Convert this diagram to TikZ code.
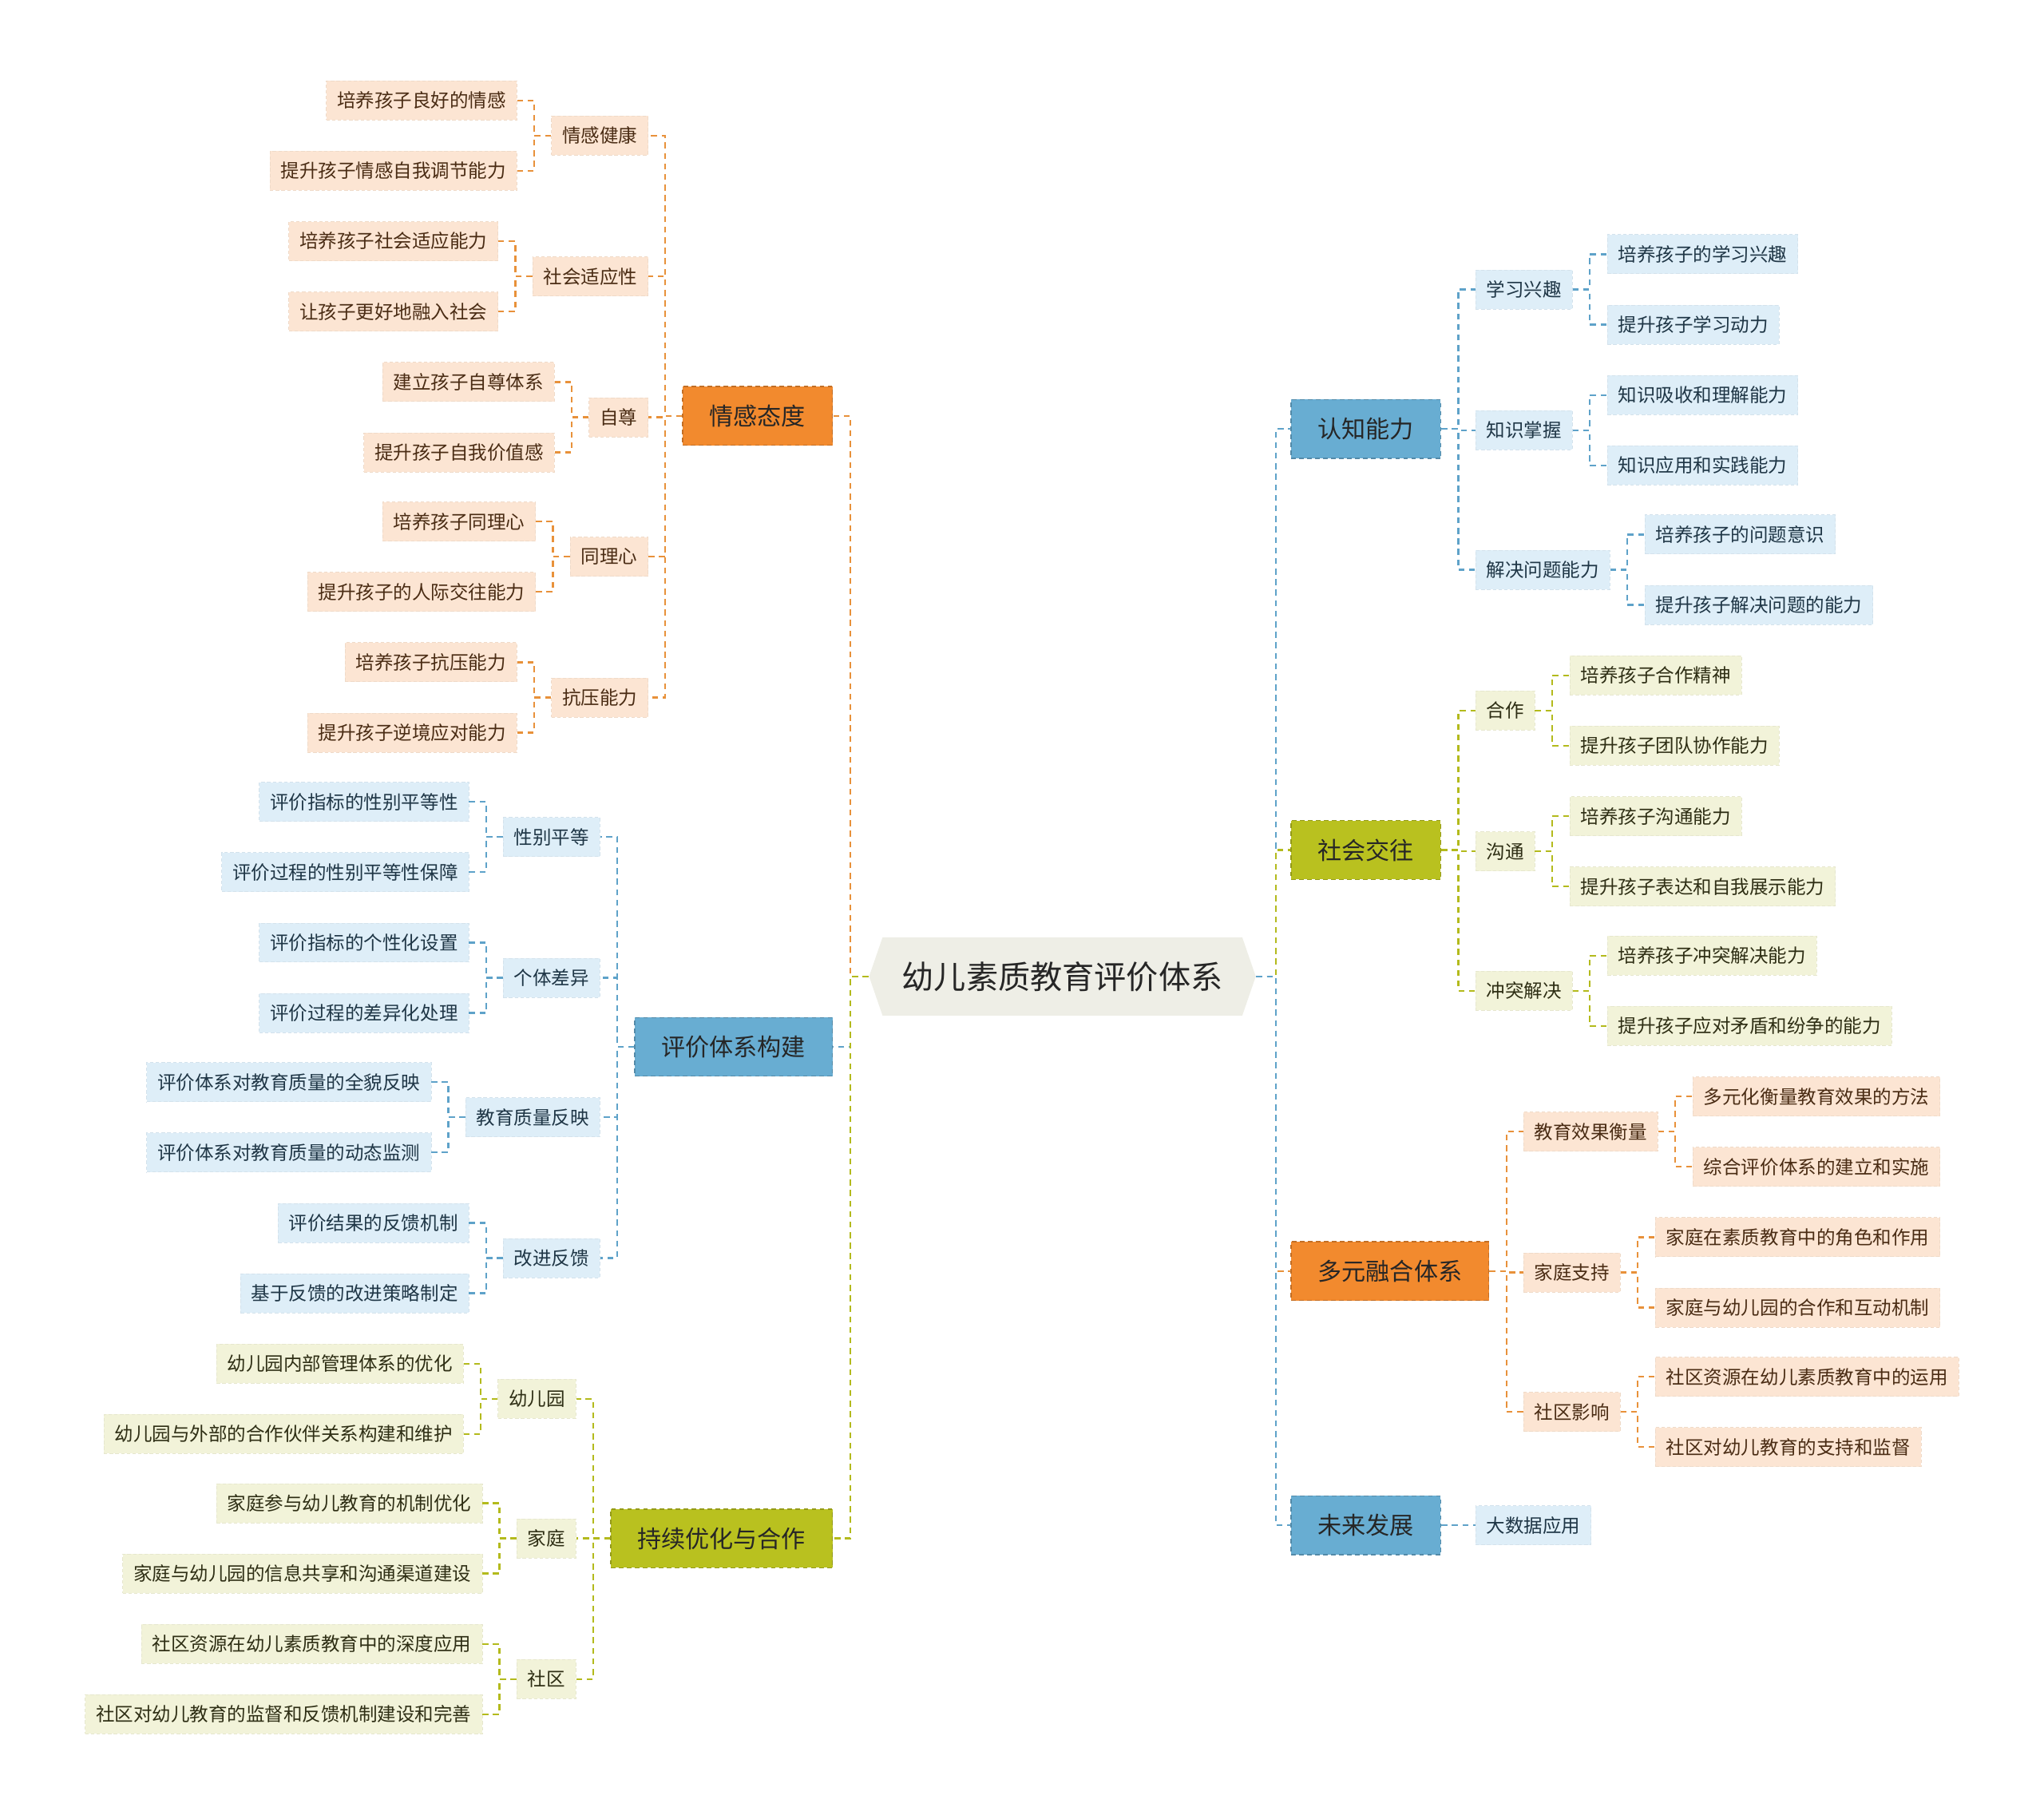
\documentclass[tikz,border=0pt]{standalone}
\usepackage{fontspec}
\setmainfont{Noto Sans CJK SC}
\usetikzlibrary{shapes.symbols}

\definecolor{cRoot}{HTML}{EEEEE6}
\definecolor{cO}{HTML}{F28A2E}
\definecolor{cB}{HTML}{68ADD2}
\definecolor{cG}{HTML}{B9C11F}
\definecolor{cOl}{HTML}{FCE5D3}
\definecolor{cBl}{HTML}{DEEEF8}
\definecolor{cGl}{HTML}{F2F3D9}
\definecolor{cOline}{HTML}{E8913A}
\definecolor{cBline}{HTML}{5EA2C9}
\definecolor{cGline}{HTML}{B3BA1C}
\definecolor{cOtxt}{HTML}{4A2C14}
\definecolor{cBtxt}{HTML}{1F3646}
\definecolor{cGtxt}{HTML}{2E2E14}

\tikzset{
  root/.style={signal, signal to=west and east, signal pointer angle=142,
    fill=cRoot, minimum height=1.2cm, inner xsep=0.3cm,
    font=\fontsize{14}{16}\selectfont, text=black!85},
  hub/.style={minimum height=0.9cm, inner xsep=0.41cm, inner ysep=0pt,
    font=\fontsize{10.5}{12}\selectfont, text=black!85,
    dash pattern=on 2pt off 1.5pt, line width=0.5pt},
  hubO/.style={hub, fill=cO, draw=cO!80!black},
  hubB/.style={hub, fill=cB, draw=cB!80!black},
  hubG/.style={hub, fill=cG, draw=cG!80!black},
  twig/.style={minimum height=0.6cm, inner xsep=0.165cm, inner ysep=0pt,
    font=\fontsize{8.2}{10}\selectfont,
    dash pattern=on 1.5pt off 1pt, line width=0.3pt},
  twigO/.style={twig, fill=cOl, draw=cOl!95!black, text=cOtxt},
  twigB/.style={twig, fill=cBl, draw=cBl!95!black, text=cBtxt},
  twigG/.style={twig, fill=cGl, draw=cGl!95!black, text=cGtxt},
  link/.style={dash pattern=on 2.6pt off 2pt, line width=0.8pt},
  linkO/.style={link, draw=cOline},
  linkB/.style={link, draw=cBline},
  linkG/.style={link, draw=cGline},
}

% sub-branch with two leaves, left side: name, colour, parent, y, label, upper leaf, lower leaf
\newcommand{\branchL}[7]{%
  \node[twig#2, anchor=east, xshift=-0.52cm] (#1) at (#3.west |- 0,#4) {#5};
  \node[twig#2, anchor=east, xshift=-0.52cm, yshift=0.54cm] (#1a) at (#1.west) {#6};
  \node[twig#2, anchor=east, xshift=-0.52cm, yshift=-0.54cm] (#1b) at (#1.west) {#7};
  \draw[link#2] (#3.west) -- ++(-13,0) |- (#1.east);
  \draw[link#2] (#1.west) -- ++(-13,0) |- (#1a.east);
  \draw[link#2] (#1.west) -- ++(-13,0) |- (#1b.east);
}
% same, right side
\newcommand{\branchR}[7]{%
  \node[twig#2, anchor=west, xshift=0.52cm] (#1) at (#3.east |- 0,#4) {#5};
  \node[twig#2, anchor=west, xshift=0.53cm, yshift=0.54cm] (#1a) at (#1.east) {#6};
  \node[twig#2, anchor=west, xshift=0.53cm, yshift=-0.54cm] (#1b) at (#1.east) {#7};
  \draw[link#2] (#3.east) -- ++(13,0) |- (#1.west);
  \draw[link#2] (#1.east) -- ++(13,0) |- (#1a.west);
  \draw[link#2] (#1.east) -- ++(13,0) |- (#1b.west);
}

\begin{document}
\begin{tikzpicture}[x=0.02cm, y=-0.02cm]
  \useasboundingbox (0,0) rectangle (1568,1392);

  \node[root] (root) at (815,749) {幼儿素质教育评价体系};

  % left side
  \node[hubO, anchor=east] (qg) at (639,319) {情感态度};
  \node[hubB, anchor=east] (pj) at (639,803) {评价体系构建};
  \node[hubG, anchor=east] (cx) at (639,1180) {持续优化与合作};

  % right side
  \node[hubB, anchor=west] (rz) at (990,329) {认知能力};
  \node[hubG, anchor=west] (sj) at (990,652) {社会交往};
  \node[hubO, anchor=west] (dy) at (990,975) {多元融合体系};
  \node[hubB, anchor=west] (wl) at (990,1170) {未来发展};

  \draw[linkO] (root.west) -- ++(-14,0) |- (qg.east);
  \draw[linkB] (root.west) -- ++(-14,0) |- (pj.east);
  \draw[linkG] (root.west) -- ++(-14,0) |- (cx.east);
  \draw[linkB] (root.east) -- ++(15,0) |- (rz.west);
  \draw[linkG] (root.east) -- ++(15,0) |- (sj.west);
  \draw[linkO] (root.east) -- ++(15,0) |- (dy.west);
  \draw[linkB] (root.east) -- ++(15,0) |- (wl.west);

  % 情感态度
  \branchL{jk}{O}{qg}{104}{情感健康}{培养孩子良好的情感}{提升孩子情感自我调节能力}
  \branchL{sh}{O}{qg}{212}{社会适应性}{培养孩子社会适应能力}{让孩子更好地融入社会}
  \branchL{zz}{O}{qg}{320}{自尊}{建立孩子自尊体系}{提升孩子自我价值感}
  \branchL{tl}{O}{qg}{427}{同理心}{培养孩子同理心}{提升孩子的人际交往能力}
  \branchL{ky}{O}{qg}{535}{抗压能力}{培养孩子抗压能力}{提升孩子逆境应对能力}

  % 评价体系构建
  \branchL{xb}{B}{pj}{642}{性别平等}{评价指标的性别平等性}{评价过程的性别平等性保障}
  \branchL{gt}{B}{pj}{750}{个体差异}{评价指标的个性化设置}{评价过程的差异化处理}
  \branchL{zl}{B}{pj}{857}{教育质量反映}{评价体系对教育质量的全貌反映}{评价体系对教育质量的动态监测}
  \branchL{gj}{B}{pj}{965}{改进反馈}{评价结果的反馈机制}{基于反馈的改进策略制定}

  % 持续优化与合作
  \branchL{yey}{G}{cx}{1073}{幼儿园}{幼儿园内部管理体系的优化}{幼儿园与外部的合作伙伴关系构建和维护}
  \branchL{jt}{G}{cx}{1180}{家庭}{家庭参与幼儿教育的机制优化}{家庭与幼儿园的信息共享和沟通渠道建设}
  \branchL{sq}{G}{cx}{1288}{社区}{社区资源在幼儿素质教育中的深度应用}{社区对幼儿教育的监督和反馈机制建设和完善}

  % 认知能力
  \branchR{xx}{B}{rz}{222}{学习兴趣}{培养孩子的学习兴趣}{提升孩子学习动力}
  \branchR{zs}{B}{rz}{330}{知识掌握}{知识吸收和理解能力}{知识应用和实践能力}
  \branchR{jj}{B}{rz}{437}{解决问题能力}{培养孩子的问题意识}{提升孩子解决问题的能力}

  % 社会交往
  \branchR{hz}{G}{sj}{545}{合作}{培养孩子合作精神}{提升孩子团队协作能力}
  \branchR{gou}{G}{sj}{653}{沟通}{培养孩子沟通能力}{提升孩子表达和自我展示能力}
  \branchR{ct}{G}{sj}{760}{冲突解决}{培养孩子冲突解决能力}{提升孩子应对矛盾和纷争的能力}

  % 多元融合体系
  \branchR{xg}{O}{dy}{868}{教育效果衡量}{多元化衡量教育效果的方法}{综合评价体系的建立和实施}
  \branchR{zc}{O}{dy}{976}{家庭支持}{家庭在素质教育中的角色和作用}{家庭与幼儿园的合作和互动机制}
  \branchR{yx}{O}{dy}{1083}{社区影响}{社区资源在幼儿素质教育中的运用}{社区对幼儿教育的支持和监督}

  % 未来发展
  \node[twigB, anchor=west, xshift=0.52cm] (dsj) at (wl.east) {大数据应用};
  \draw[linkB] (wl.east) -- ++(13,0) |- (dsj.west);
\end{tikzpicture}
\end{document}
